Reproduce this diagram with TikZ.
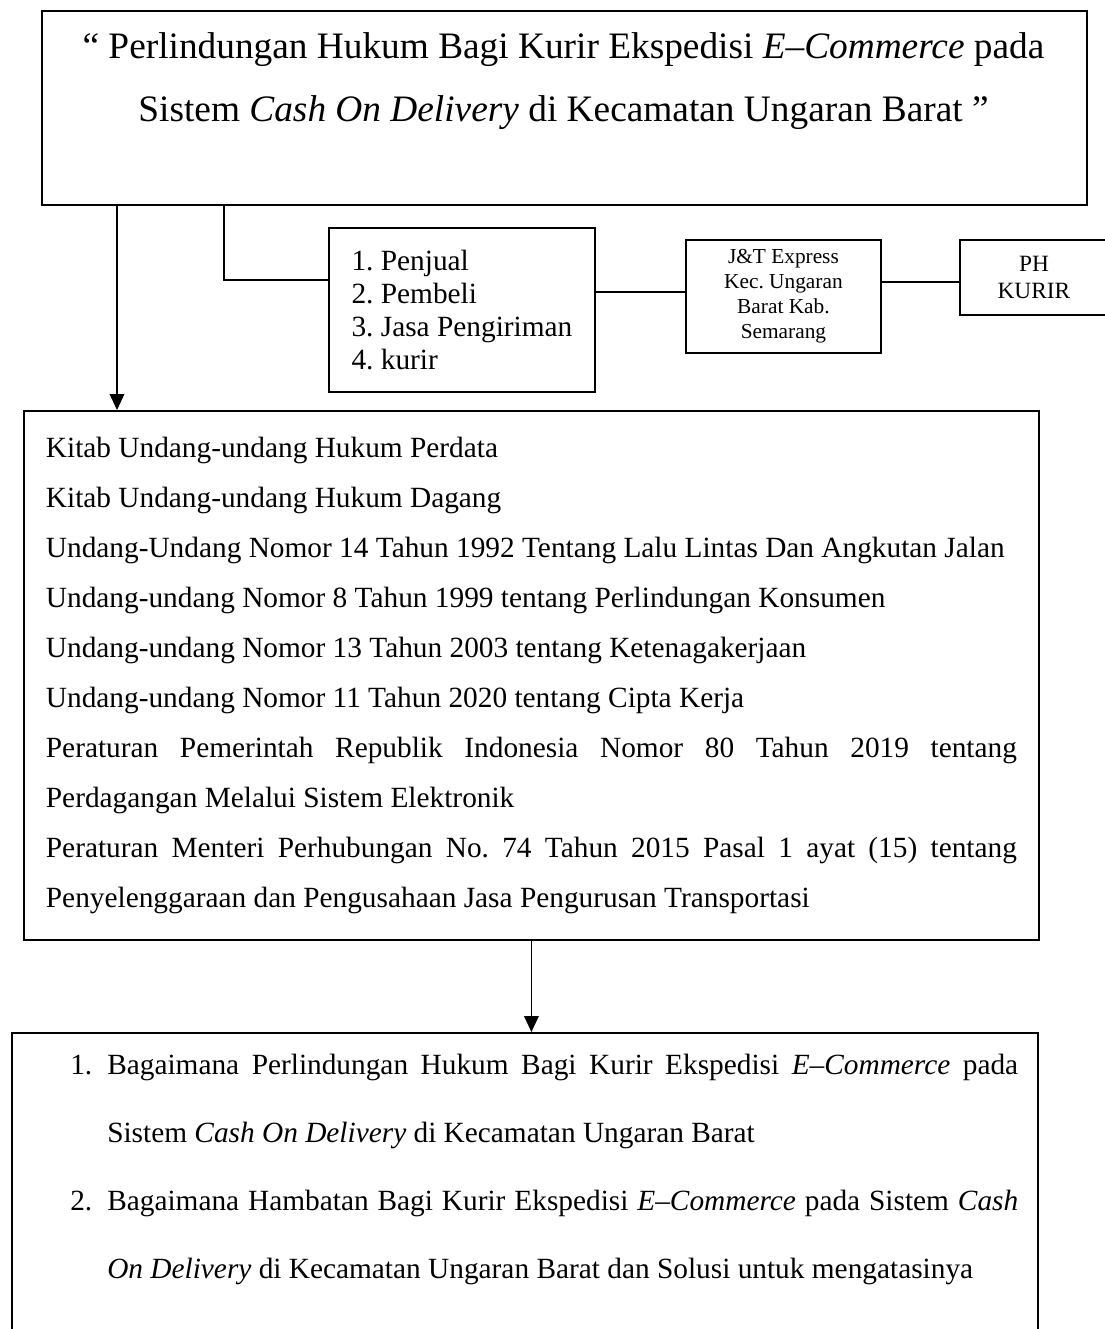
\documentclass[tikz,border=0pt]{standalone}
\usepackage{fontspec}
\setmainfont{Liberation Serif}
\usepackage{tikz}
\usetikzlibrary{arrows.meta,positioning,calc}
\frenchspacing

\begin{document}
\begin{tikzpicture}[
  x=0.75pt, y=-0.75pt,
  kotak/.style={
    draw=black,
    line width=1.4pt,
    inner sep=0pt
  },
  garis/.style={line width=1.1pt},
  panah/.style={garis, -{Triangle[length=12pt,width=11pt]}},
  teks/.style={inner sep=0pt, font=\fontsize{22}{37.5}\selectfont}
]

  \path[use as bounding box, fill=white] (0,0) rectangle (1104,1329);

  % --- TOP: TITLE BOX ---
  \node[kotak, anchor=north west, minimum width=783.75pt, minimum height=145.5pt] (judul) at (41,10) {};
  \node[inner sep=0pt, anchor=north, align=center, font=\fontsize{28}{47.25}\selectfont] (judulteks) at (563.5,32) {%
    “ Perlindungan Hukum Bagi Kurir Ekspedisi \emph{E–Commerce} pada\\
    Sistem \emph{Cash On Delivery} di Kecamatan Ungaran Barat ”};

  % --- MIDDLE ROW: PARTIES ---
  \node[kotak, anchor=north west, minimum width=199.5pt, minimum height=123pt, align=left,
        font=\fontsize{22}{24.75}\selectfont] (pihak) at (328,227) {%
    1. Penjual\\
    2. Pembeli\\
    3. Jasa Pengiriman\\
    4. kurir};

  \node[kotak, anchor=north west, minimum width=146.25pt, minimum height=84.75pt, align=center,
        font=\fontsize{16}{18.75}\selectfont] (jt) at (685,239) {%
    J\&T Express\\
    Kec. Ungaran\\
    Barat Kab.\\
    Semarang};

  \node[kotak, anchor=north west, minimum width=111pt, minimum height=56.25pt, align=center,
        font=\fontsize{17.5}{20.25}\selectfont] (ph) at (959,239) {%
    PH\\
    KURIR};

  % Connectors from the title box
  \coordinate (kiri) at (117,0);
  \coordinate (siku) at (224,280);
  \draw[garis] (judul.south -| siku) |- (pihak.west |- siku);
  \draw[garis] ([yshift=3.4pt]jt.west -| pihak.east) -- ([yshift=3.4pt]jt.west);
  \draw[garis] ([yshift=-3.4pt]ph.west -| jt.east) -- ([yshift=-3.4pt]ph.west);

  % --- LEGAL BASIS BOX ---
  \node[kotak, teks, anchor=north west, text width=728.25pt, inner xsep=16.5pt,
        minimum height=396.75pt, align=justify] (hukum) at (23,410) {%
    Kitab Undang-undang Hukum Perdata\\
    Kitab Undang-undang Hukum Dagang\\
    Undang-Undang Nomor 14 Tahun 1992 Tentang Lalu Lintas Dan Angkutan Jalan\\
    Undang-undang Nomor 8 Tahun 1999 tentang Perlindungan Konsumen\\
    Undang-undang Nomor 13 Tahun 2003 tentang Ketenagakerjaan\\
    Undang-undang Nomor 11 Tahun 2020 tentang Cipta Kerja\\
    Peraturan Pemerintah Republik Indonesia Nomor 80 Tahun 2019 tentang\linebreak
    Perdagangan Melalui Sistem Elektronik\\
    Peraturan Menteri Perhubungan No. 74 Tahun 2015 Pasal 1 ayat (15) tentang\linebreak
    Penyelenggaraan dan Pengusahaan Jasa Pengurusan Transportasi};

  \draw[panah] (judul.south -| kiri) -- (hukum.north -| kiri);

  % --- BOTTOM: RESEARCH QUESTIONS ---
  \node[kotak, anchor=north west, minimum width=769.5pt, minimum height=261pt] (masalah) at (11,1032) {};
  \node[teks, anchor=north west, text width=711pt, align=justify,
        font=\fontsize{22}{51}\selectfont] (masalahteks) at (70,1054) {%
    \makebox[27.75pt][l]{1.}Bagaimana Perlindungan Hukum Bagi Kurir Ekspedisi \emph{E–Commerce} pada\linebreak
    \hspace*{27.75pt}Sistem \emph{Cash On Delivery} di Kecamatan Ungaran Barat\\
    \makebox[27.75pt][l]{2.}Bagaimana Hambatan Bagi Kurir Ekspedisi \emph{E–Commerce} pada Sistem \emph{Cash}\linebreak
    \hspace*{27.75pt}\emph{On Delivery} di Kecamatan Ungaran Barat dan Solusi untuk mengatasinya};

  \draw[panah] (hukum.south) -- (hukum.south |- masalah.north);

\end{tikzpicture}
\end{document}
